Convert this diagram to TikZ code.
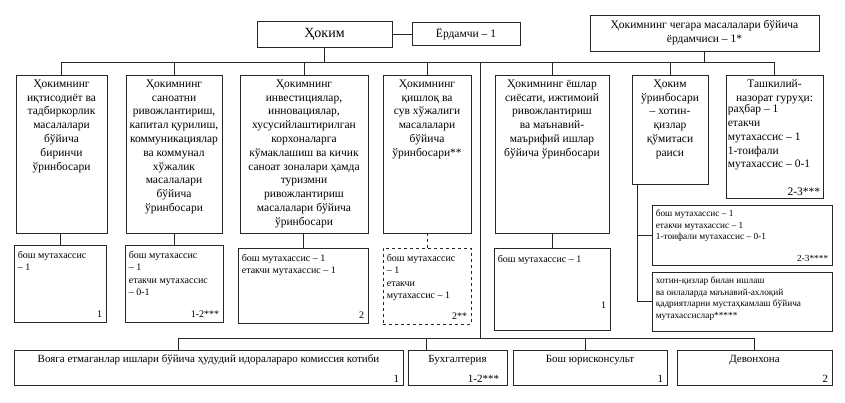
\documentclass[tikz,border=0pt]{standalone}
\usepackage{fontspec}
\setmainfont{Liberation Serif}
\usepackage{tikz}
\newcommand\hdsize{\fontsize{11.5}{13.8}\selectfont}
\newcommand\stsize{\fontsize{10}{12.5}\selectfont}
\newcommand\smsize{\fontsize{9.3}{11.7}\selectfont}
\newcommand\btsize{\fontsize{11}{13}\selectfont}

\begin{document}
\begin{tikzpicture}[x=1pt, y=-1pt,
  box/.style={draw=black!85, line width=0.7pt, inner sep=0pt},
  link/.style={draw=black!85, line width=0.7pt},
  head/.style={font=\hdsize, align=center, inner sep=0pt, anchor=north},
  staff/.style={font=\stsize, align=left, inner sep=0pt, anchor=north west},
  num/.style={font=\stsize, inner sep=0pt, anchor=south east}]
  \useasboundingbox (0,0) rectangle (845,402);

  % top level
  \node[box, minimum width=135pt, minimum height=26pt, font=\fontsize{14}{16}\selectfont] (hokim) at (324.5,34) {Ҳоким};
  \node[box, minimum width=108pt, minimum height=23pt, font=\hdsize] (yordam) at (466,34) {Ёрдамчи – 1};
  \node[box, minimum width=229pt, minimum height=36pt, font=\hdsize, align=center] (chegara) at (704.5,33)
    {Ҳокимнинг чегара масалалари бўйича\\ёрдамчиси – 1*};
  \coordinate (topbus) at (0,62);
  \coordinate (botbus) at (0,338);
  \coordinate (trunk) at (480,62);

  % deputies
  \node[box, minimum width=91pt, minimum height=158pt] (c1) at (61.5,154) {};
  \node[box, minimum width=96pt, minimum height=158pt] (c2) at (174,154) {};
  \node[box, minimum width=128pt, minimum height=158pt] (c3) at (304,154) {};
  \node[box, minimum width=88pt, minimum height=158pt] (c4) at (427,154) {};
  \node[box, minimum width=114pt, minimum height=158pt] (c5) at (552,154) {};
  \node[box, minimum width=76pt, minimum height=109pt] (c6) at (670,129.5) {};
  \node[box, minimum width=97pt, minimum height=123pt] (c7) at (774.5,136.5) {};

  \node[head] (c1t) at ([yshift=-5pt]c1.north) {Ҳокимнинг\\иқтисодиёт ва\\тадбиркорлик\\масалалари\\бўйича\\биринчи\\ўринбосари};
  \node[head] (c2t) at ([yshift=-5pt]c2.north) {Ҳокимнинг\\саноатни\\ривожлантириш,\\капитал қурилиш,\\коммуникациялар\\ва коммунал\\хўжалик\\масалалари\\бўйича\\ўринбосари};
  \node[head] (c3t) at ([yshift=-5pt]c3.north) {Ҳокимнинг\\инвестициялар,\\инновациялар,\\хусусийлаштирилган\\корхоналарга\\кўмаклашиш ва кичик\\саноат зоналари ҳамда\\туризмни\\ривожлантириш\\масалалари бўйича\\ўринбосари};
  \node[head] (c4t) at ([yshift=-5pt]c4.north) {Ҳокимнинг\\қишлоқ ва\\сув хўжалиги\\масалалари\\бўйича\\ўринбосари**};
  \node[head] (c5t) at ([yshift=-5pt]c5.north) {Ҳокимнинг ёшлар\\сиёсати, ижтимоий\\ривожлантириш\\ва маънавий-\\маърифий ишлар\\бўйича ўринбосари};
  \node[head] (c6t) at ([yshift=-5pt]c6.north) {Ҳоким\\ўринбосари\\– хотин-\\қизлар\\қўмитаси\\раиси};
  \node[head] (c7t) at ([yshift=-5pt]c7.north) {Ташкилий-\\назорат гуруҳи:};
  \node[head, anchor=north west, align=left] (c7b) at ([xshift=2pt]c7.west |- c7t.south)
    {раҳбар – 1\\етакчи\\мутахассис – 1\\1-тоифали\\мутахассис – 0-1};
  \node[num, font=\hdsize] (c7n) at ([xshift=-3pt,yshift=3pt]c7.south east) {2-3***};

  % staff
  \node[box, minimum width=92pt, minimum height=77pt] (s1) at (60,283.5) {};
  \node[box, minimum width=98pt, minimum height=77pt] (s2) at (174,283.5) {};
  \node[box, minimum width=130pt, minimum height=75pt] (s3) at (303,285.5) {};
  \node[box, dashed, minimum width=88pt, minimum height=76pt] (s4) at (427,286) {};
  \node[box, minimum width=116pt, minimum height=82pt] (s5) at (552,289) {};
  \node[box, minimum width=180pt, minimum height=60pt] (s6a) at (742,235) {};
  \node[box, minimum width=180pt, minimum height=59pt] (s6b) at (742,301.5) {};

  \node[staff] (s1t) at ([xshift=4pt,yshift=-6pt]s1.north west) {бош мутахассис\\– 1};
  \node[num] (s1n) at ([xshift=-4pt,yshift=5pt]s1.south east) {1};
  \node[staff] (s2t) at ([xshift=4pt,yshift=-6pt]s2.north west) {бош мутахассис\\– 1\\етакчи мутахассис\\– 0-1};
  \node[num] (s2n) at ([xshift=-4pt,yshift=5pt]s2.south east) {1-2***};
  \node[staff] (s3t) at ([xshift=4pt,yshift=-6pt]s3.north west) {бош мутахассис – 1\\етакчи мутахассис – 1};
  \node[num] (s3n) at ([xshift=-4pt,yshift=5pt]s3.south east) {2};
  \node[staff] (s4t) at ([xshift=4pt,yshift=-6pt]s4.north west) {бош мутахассис\\– 1\\етакчи\\мутахассис – 1};
  \node[num] (s4n) at ([xshift=-4pt,yshift=5pt]s4.south east) {2**};
  \node[staff] (s5t) at ([xshift=4pt,yshift=-7pt]s5.north west) {бош мутахассис – 1};
  \node[num] (s5n) at ([xshift=-4pt,yshift=22pt]s5.south east) {1};
  \node[staff, font=\smsize] (s6at) at ([xshift=4pt,yshift=-5pt]s6a.north west) {бош мутахассис – 1\\етакчи мутахассис – 1\\1-тоифали мутахассис – 0-1};
  \node[num, font=\smsize] (s6an) at ([xshift=-4pt,yshift=4pt]s6a.south east) {2-3****};
  \node[staff, font=\smsize] (s6bt) at ([xshift=4pt,yshift=-5pt]s6b.north west) {хотин-қизлар билан ишлаш\\ва оилаларда маънавий-ахлоқий\\қадриятларни мустаҳкамлаш бўйича\\мутахассислар*****};

  % services
  \node[box, minimum width=389pt, minimum height=35pt] (b1) at (208.5,367.5) {};
  \node[box, minimum width=99pt, minimum height=35pt] (b2) at (457.5,367.5) {};
  \node[box, minimum width=154pt, minimum height=35pt] (b3) at (590,367.5) {};
  \node[box, minimum width=155pt, minimum height=35pt] (b4) at (754.5,367.5) {};
  \node[head, font=\btsize] (b1t) at ([yshift=-5pt]b1.north) {Вояга етмаганлар ишлари бўйича ҳудудий идоралараро комиссия котиби};
  \node[num, font=\btsize] (b1n) at ([xshift=-4pt,yshift=3pt]b1.south east) {1};
  \node[head, font=\btsize] (b2t) at ([yshift=-5pt]b2.north) {Бухгалтерия};
  \node[num, font=\btsize] (b2n) at ([xshift=-8pt,yshift=3pt]b2.south east) {1-2***};
  \node[head, font=\btsize] (b3t) at ([yshift=-5pt]b3.north) {Бош юрисконсульт};
  \node[num, font=\btsize] (b3n) at ([xshift=-4pt,yshift=3pt]b3.south east) {1};
  \node[head, font=\btsize] (b4t) at ([yshift=-5pt]b4.north) {Девонхона};
  \node[num, font=\btsize] (b4n) at ([xshift=-4pt,yshift=3pt]b4.south east) {2};

  % connectors
  \draw[link] (hokim.east) -- (yordam.west);
  \draw[link] (hokim.south) -- (hokim.south |- topbus);
  \draw[link] (chegara.south) -- (chegara.south |- topbus);
  \draw[link] (c1.north |- topbus) -- (c7.north |- topbus);
  \foreach \c in {c1,c2,c3,c4,c5,c6,c7}
    \draw[link] (\c.north) -- (\c.north |- topbus);
  \draw[link] (trunk) -- (trunk |- botbus);
  \foreach \s/\c in {s1/c1,s2/c2,s3/c3,s5/c5}
    \draw[link] (\s.north) -- (\s.north |- \c.south);
  \draw[link, dashed] (s4.north) -- (s4.north |- c4.south);
  \draw[link] ([xshift=-33pt]c6.south) |- (s6b.west);
  \draw[link] ([xshift=-33pt]c6.south |- s6a.west) -- (s6a.west);
  \draw[link] ([xshift=-30.5pt]b1.north |- botbus) -- (b4.north |- botbus);
  \draw[link] ([xshift=-30.5pt]b1.north) -- ([xshift=-30.5pt]b1.north |- botbus);
  \draw[link] ([xshift=-31.5pt]b2.north) -- ([xshift=-31.5pt]b2.north |- botbus);
  \draw[link] ([xshift=-5pt]b3.north) -- ([xshift=-5pt]b3.north |- botbus);
  \draw[link] (b4.north) -- (b4.north |- botbus);
\end{tikzpicture}
\end{document}
